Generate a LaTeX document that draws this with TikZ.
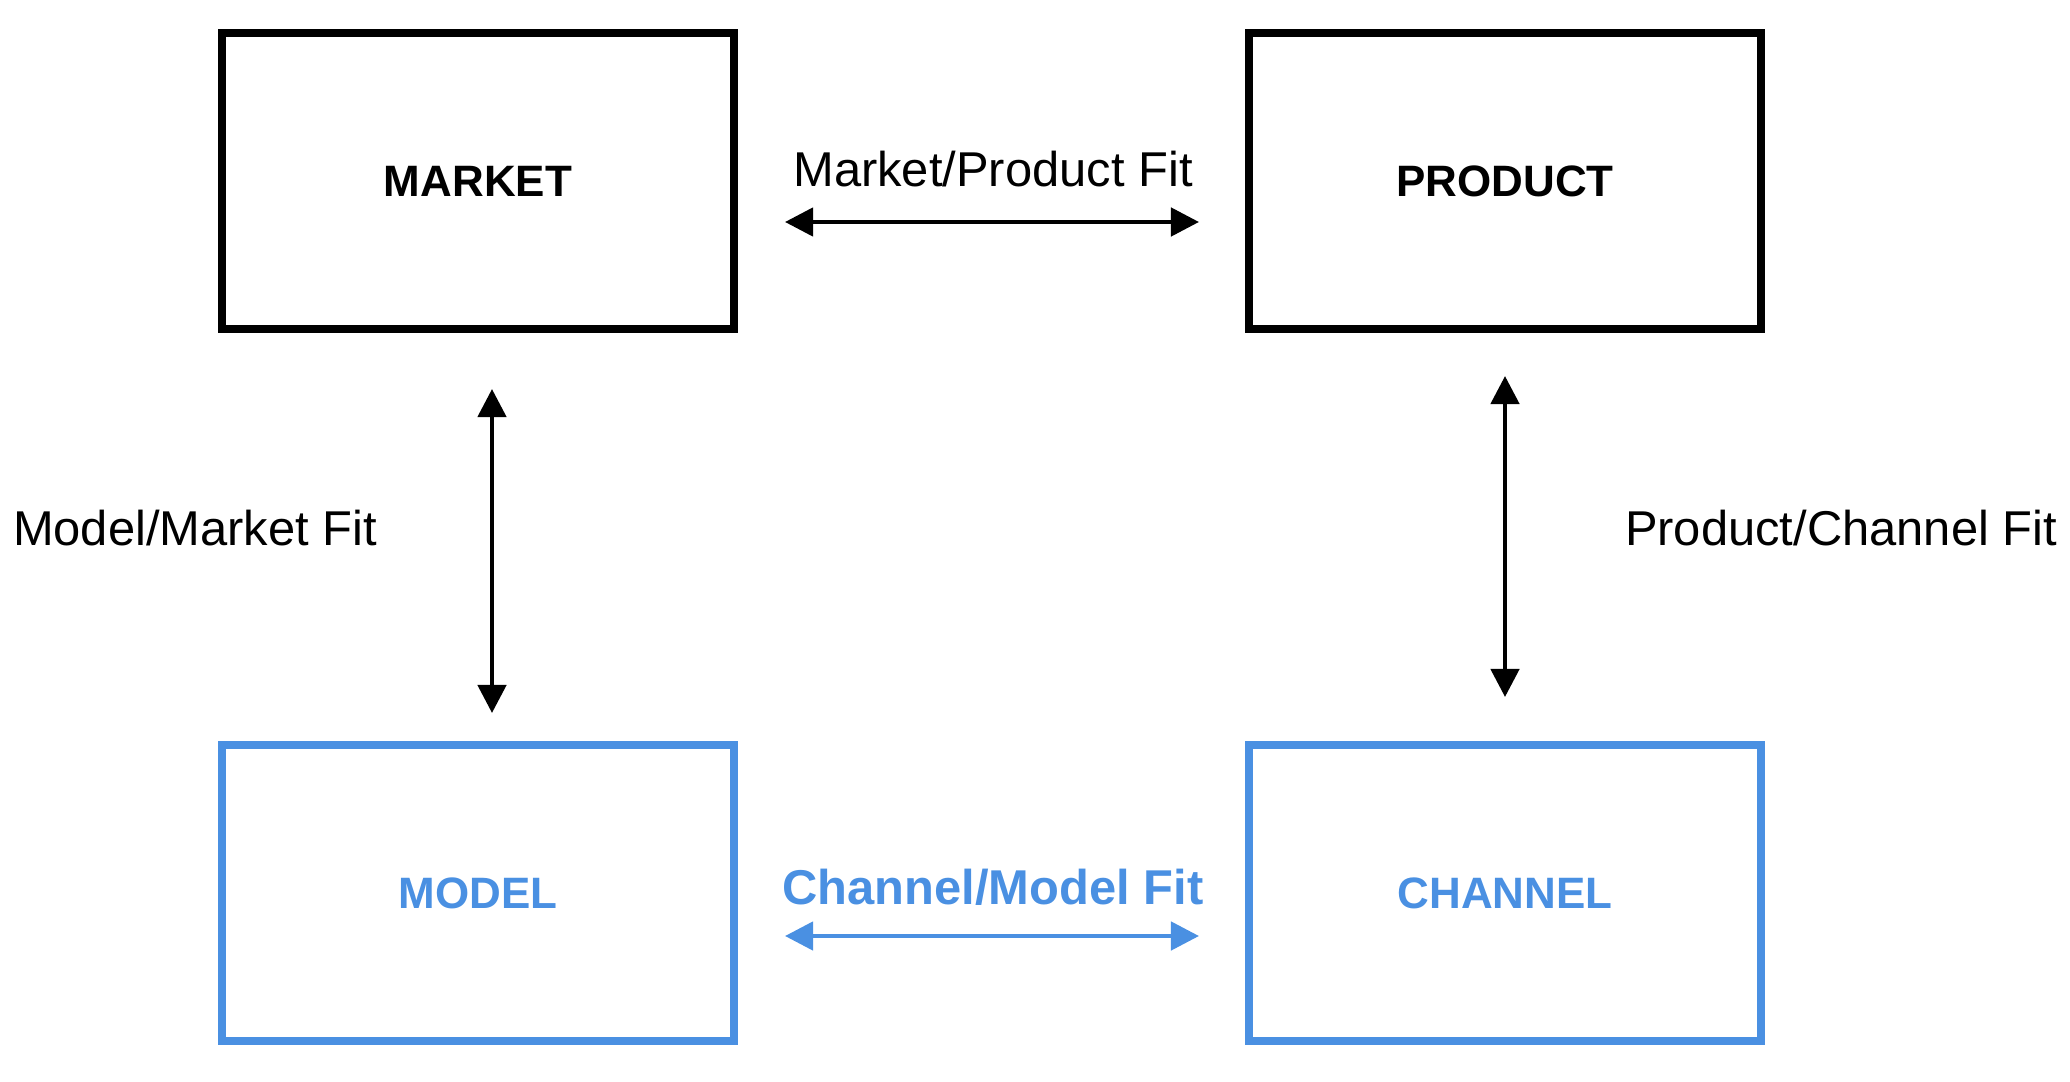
\documentclass[tikz,border=0pt]{standalone}
\usepackage{fontspec}
\setmainfont{Liberation Sans}
\usetikzlibrary{arrows.meta}
\definecolor{fitblue}{HTML}{4A90E2}

\begin{document}
\begin{tikzpicture}[x=0.01cm,y=-0.01cm,
    box/.style={draw, line width=2.4pt, minimum width=5.12cm, minimum height=2.96cm,
      font=\fontsize{12.5}{15}\selectfont\bfseries},
    fit/.style={line width=1.3pt, {Triangle[length=8pt,width=8pt]}-{Triangle[length=8pt,width=8pt]}},
    lbl/.style={font=\fontsize{13.9}{16}\selectfont}]
  \useasboundingbox (0,0) rectangle (2070,1082);

  % boxes
  \node[box] (market) at (478,181) {MARKET};
  \node[box] (product) at (1505,181) {PRODUCT};
  \node[box, draw=fitblue, text=fitblue] (model) at (478,893) {MODEL};
  \node[box, draw=fitblue, text=fitblue] (channel) at (1505,893) {CHANNEL};

  % arrow ends
  \coordinate (mp1) at (785,222);
  \coordinate (mp2) at (1199,222);
  \coordinate (mm1) at (492,389);
  \coordinate (mm2) at (492,713);
  \coordinate (pc1) at (1505,376);
  \coordinate (pc2) at (1505,697);
  \coordinate (cm1) at (785,936);
  \coordinate (cm2) at (1199,936);

  % fits
  \draw[fit] (mp1) -- (mp2);
  \draw[fit] (mm1) -- (mm2);
  \draw[fit] (pc1) -- (pc2);
  \draw[fit, draw=fitblue, fill=fitblue] (cm1) -- (cm2);

  % labels
  \node[lbl] (mplbl) at (993,169) {Market/Product Fit};
  \node[lbl] (mmlbl) at (195,528) {Model/Market Fit};
  \node[lbl] (pclbl) at (1841,528) {Product/Channel Fit};
  \node[lbl, font=\fontsize{13.9}{16}\selectfont\bfseries, text=fitblue] (cmlbl) at (993,887) {Channel/Model Fit};
\end{tikzpicture}
\end{document}
